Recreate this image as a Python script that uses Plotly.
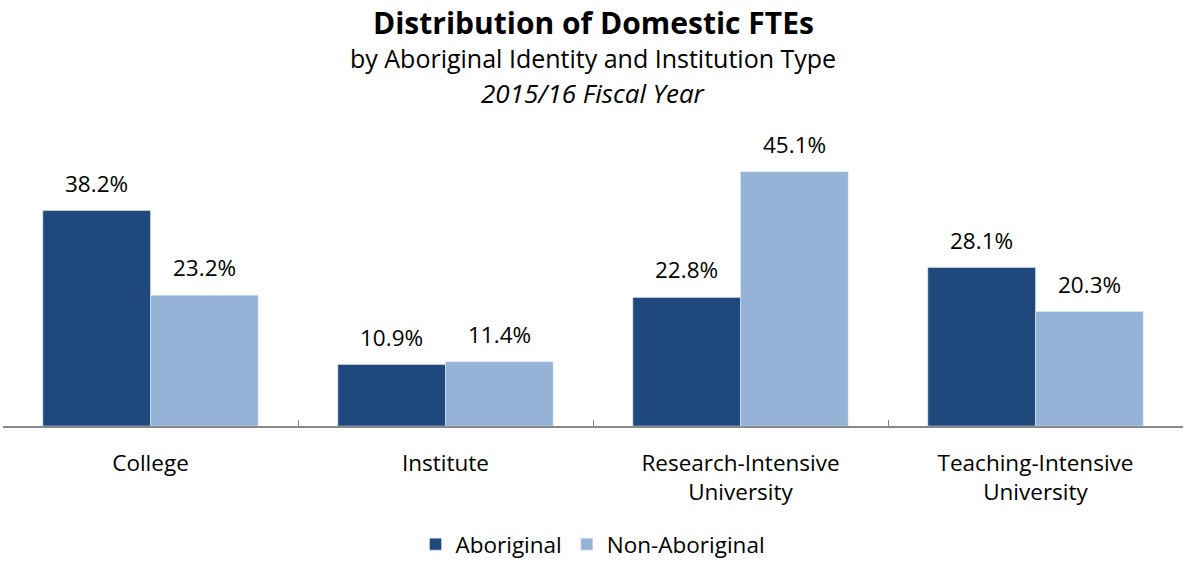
import plotly.graph_objects as go

categories = ["College", "Institute", "Research-Intensive<br>University", "Teaching-Intensive<br>University"]
aboriginal = [38.2, 10.9, 22.8, 28.1]
non_aboriginal = [23.2, 11.4, 45.1, 20.3]

FONT = "Open Sans"
dark = "#1F497D"
light = "#95B3D7"
FS = 22.5

fig = go.Figure()
fig.add_trace(go.Bar(x=categories, y=aboriginal, name="Aboriginal", marker_color=dark))
fig.add_trace(go.Bar(x=categories, y=non_aboriginal, name="Non-Aboriginal", marker_color=light))

# data labels above bars
BAR_HALF = 54
for series, shift in ((aboriginal, -BAR_HALF), (non_aboriginal, BAR_HALF)):
    for c, v in zip(categories, series):
        fig.add_annotation(x=c, y=v, xref="x", yref="y", text=f"{v:.1f}%", showarrow=False,
                           xshift=shift, yshift=10, yanchor="bottom",
                           font=dict(size=FS, family=FONT, color="#000000"))

H, T, B = 567, 144, 140
plot_h = H - T - B
def py(ypix):
    return (H - B - ypix) / plot_h

fig.update_layout(
    width=1185, height=H,
    margin=dict(l=3, r=2, t=T, b=B),
    paper_bgcolor="white", plot_bgcolor="white",
    barmode="group", bargap=0.27, bargroupgap=0,
    font=dict(family=FONT, size=FS, color="#000000"),
    showlegend=True,
    legend=dict(orientation="h", x=0.5, xanchor="center", y=py(566), yanchor="bottom",
                font=dict(size=FS, family=FONT), traceorder="normal"),
    xaxis=dict(showline=True, linecolor="#898989", linewidth=1.5, ticks="inside",
               tickson="boundaries", ticklen=6, tickcolor="#898989", automargin=False,
               tickfont=dict(size=FS, family=FONT), ticklabelstandoff=16),
    yaxis=dict(range=[0, 50], visible=False, showgrid=False),
)

fig.add_annotation(text="<b>Distribution of Domestic FTEs</b>", x=0.5, y=py(0), xref="paper", yref="paper",
                   showarrow=False, font=dict(size=30, family=FONT), yanchor="top", borderpad=0)
fig.add_annotation(text="by Aboriginal Identity and Institution Type", x=0.5, y=py(58), xref="paper", yref="paper",
                   showarrow=False, font=dict(size=25, family=FONT), yanchor="middle")
fig.add_annotation(text="<i>2015/16 Fiscal Year</i>", x=0.5, y=py(93), xref="paper", yref="paper",
                   showarrow=False, font=dict(size=26, family=FONT), yanchor="middle")

fig.write_html("out.html", config={"displayModeBar": False},
               post_script="document.body.style.margin='0';")
